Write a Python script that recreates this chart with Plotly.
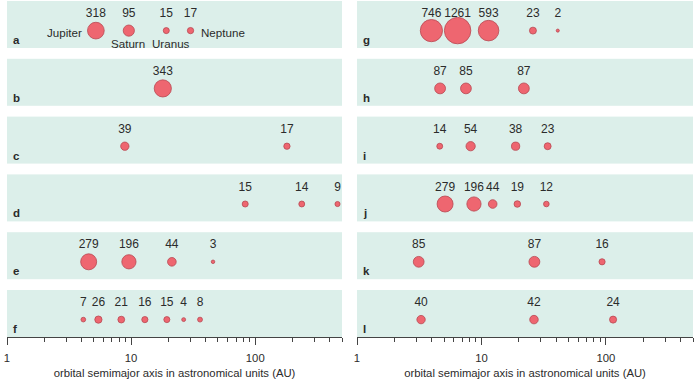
import numpy as np
import plotly.graph_objects as go

# ---- data (semimajor axis in AU, mass in Earth masses) ----
panel_letters = ["a", "b", "c", "d", "e", "f", "g", "h", "i", "j", "k", "l"]

pos_a = [5.2, 9.58, 19.2, 30.1];            mass_a = [318, 95, 15, 17]
pos_b = [18.0];                              mass_b = [343]
pos_c = [8.9, 180];                          mass_c = [39, 17]
pos_d = [83, 237, 460];                      mass_d = [15, 14, 9]
pos_e = [4.55, 9.6, 21.3, 45.7];             mass_e = [279, 196, 44, 3]
pos_f = [4.12, 5.45, 8.33, 12.9, 19.4, 26.5, 35.9]
mass_f = [7, 26, 21, 16, 15, 4, 8]
pos_g = [3.96, 6.43, 11.4, 25.9, 41];        mass_g = [746, 1261, 593, 23, 2]
pos_h = [4.65, 7.5, 21.9];                   mass_h = [87, 85, 87]
pos_i = [4.62, 8.18, 18.8, 34];              mass_i = [14, 54, 38, 23]
pos_j = [5.1, 8.7, 12.3, 19.4, 33.2];        mass_j = [279, 196, 44, 19, 12]
pos_k = [3.13, 26.6, 93];                    mass_k = [85, 87, 16]
pos_l = [3.27, 26.4, 114];                   mass_l = [40, 42, 24]

planet_names = ["Jupiter", "Saturn", "Uranus", "Neptune"]

tick_values = [1, 10, 100]
tick_labels = ["1", "10", "100"]
minor_ticks = [2, 3, 4, 5, 6, 7, 8, 9, 20, 30, 40, 50, 60, 70, 80, 90, 200, 300, 400, 500]
axis_title = "orbital semimajor axis in astronomical units (AU)"

positions = [pos_a, pos_b, pos_c, pos_d, pos_e, pos_f,
             pos_g, pos_h, pos_i, pos_j, pos_k, pos_l]
masses = [mass_a, mass_b, mass_c, mass_d, mass_e, mass_f,
          mass_g, mass_h, mass_i, mass_j, mass_k, mass_l]

# ---- styling ----
W, H = 700, 381
FONT = "Liberation Sans, Arial, sans-serif"
TXT = "#2b2b2b"
BG = "#dcefea"
FILL = "#ee6670"
EDGE = "#b84852"
x_range = [0, np.log10(500)]
col_px = [(7, 342), (357, 693)]
row_top_px = [1, 58.8, 116.6, 174.4, 232.2, 290.0]
panel_h = 47
y_bub = 0.37
y_lab = 0.72

fig = go.Figure()
layout = dict(width=W, height=H, margin=dict(l=0, r=0, t=0, b=0, autoexpand=False),
              paper_bgcolor="white", plot_bgcolor=BG, showlegend=False,
              font=dict(family=FONT, color=TXT, size=11))
annotations = []

for p in range(12):
    col, row = divmod(p, 6)
    suf = "" if p == 0 else str(p + 1)
    x0, x1 = col_px[col]
    top = row_top_px[row]
    ydom = [1 - (top + panel_h) / H, 1 - top / H]
    xdom = [x0 / W, x1 / W]
    bottom = row == 5
    xa = dict(domain=xdom, type="log", range=x_range, anchor="y" + suf,
              showgrid=False, zeroline=False, fixedrange=True, automargin=False)
    if bottom:
        xa.update(showline=True, linecolor="#444", linewidth=1,
                  ticks="outside", ticklen=7, tickwidth=1, tickcolor="#444",
                  tickvals=tick_values, ticktext=tick_labels,
                  tickfont=dict(size=11.3, color=TXT, family=FONT),
                  ticklabelstandoff=3,
                  minor=dict(tickvals=minor_ticks, ticks="outside", ticklen=4,
                             tickwidth=1, tickcolor="#444", showgrid=False),
                  title=dict(text=axis_title, font=dict(size=11.3, color=TXT, family=FONT),
                             standoff=6))
    else:
        xa.update(showticklabels=False, ticks="", showline=False)
    ya = dict(domain=ydom, range=[0, 1], anchor="x" + suf, visible=False,
              showgrid=False, zeroline=False, fixedrange=True, automargin=False)
    layout["xaxis" + suf] = xa
    layout["yaxis" + suf] = ya

    xs = positions[p]
    ms = masses[p]
    sizes = [2.45 * np.cbrt(m) for m in ms]
    fig.add_trace(go.Scatter(
        x=xs, y=[y_bub] * len(xs), mode="markers",
        marker=dict(size=sizes, color=FILL, opacity=1,
                    line=dict(color=EDGE, width=0.8)),
        xaxis="x" + suf, yaxis="y" + suf, hoverinfo="skip"))
    fig.add_trace(go.Scatter(
        x=xs, y=[y_lab] * len(xs), mode="text",
        text=[str(m) for m in ms], textposition="middle center",
        textfont=dict(size=12, color=TXT, family=FONT),
        xaxis="x" + suf, yaxis="y" + suf, hoverinfo="skip"))

    # panel letter
    annotations.append(dict(
        text="<b>%s</b>" % panel_letters[p], xref="paper", yref="y" + suf,
        x=(x0 + 4) / W, y=0.17, xanchor="left", yanchor="middle",
        showarrow=False, font=dict(size=11.5, color=TXT, family=FONT)))

# planet names in panel a
name_specs = [  # (index, xanchor, xshift, y)
    (0, "right", -12, 0.34),
    (1, "center", -1, 0.09),
    (2, "center", 5, 0.09),
    (3, "left", 8, 0.34),
]
for idx, anchor, shift, yy in name_specs:
    annotations.append(dict(
        text=planet_names[idx], xref="x", yref="y",
        x=np.log10(pos_a[idx]), y=yy, xanchor=anchor, yanchor="middle",
        xshift=shift, showarrow=False,
        font=dict(size=11.6, color=TXT, family=FONT)))

layout["annotations"] = annotations
fig.update_layout(**layout)
fig.write_html("out.html", config={"displayModeBar": False},
               post_script="document.body.style.margin='0';document.body.style.padding='0';")
